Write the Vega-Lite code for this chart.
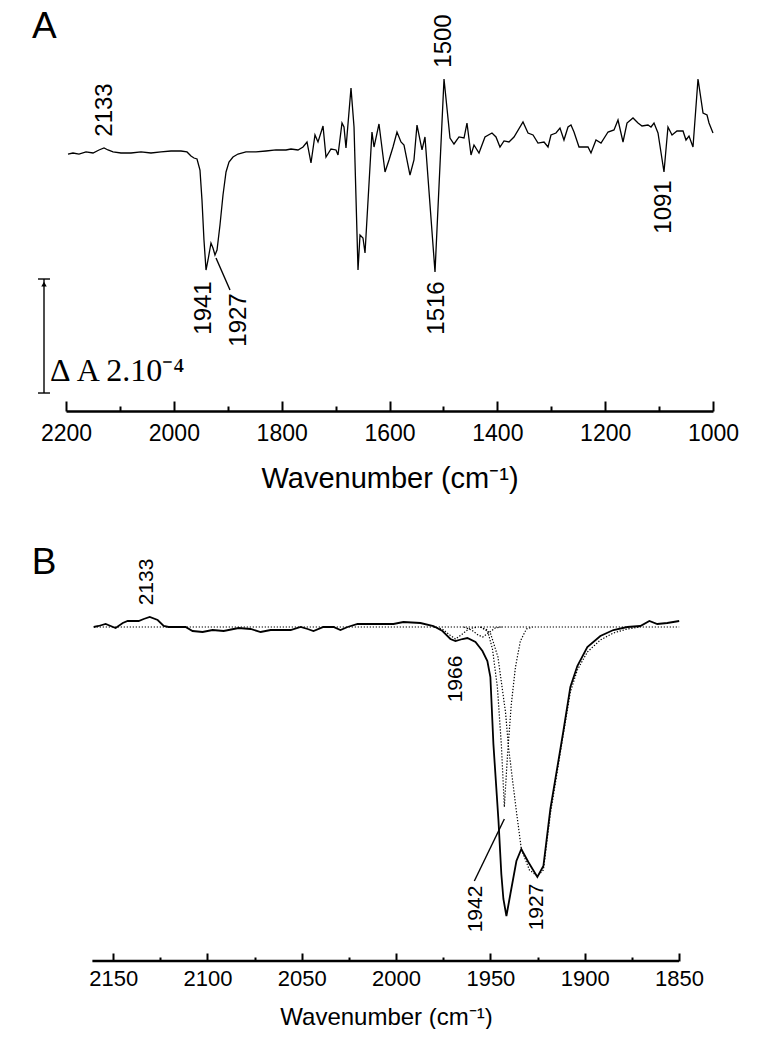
{
  "$schema": "https://vega.github.io/schema/vega-lite/v6.json",
  "background": "white",
  "padding": {"left": 31, "top": 0, "right": 0, "bottom": 0},
  "config": {
    "view": {"stroke": null},
    "axis": {"labelFont": "Liberation Sans", "titleFont": "Liberation Sans", "labelColor": "black", "titleColor": "black", "tickColor": "black", "domainColor": "black", "grid": false, "titleFontWeight": "normal", "labelOverlap": false, "labelFlush": false},
    "text": {"font": "Liberation Sans", "color": "black"}
  },
  "spacing": 51,
  "datasets": {
    "specA": [
      {"wn":2196.3,"dA":-0.018},{"wn":2187.0,"dA":0},{"wn":2175.9,"dA":-0.018},{"wn":2162.9,"dA":0.018},{"wn":2149.9,"dA":0},{"wn":2138.8,"dA":0.053},{"wn":2129.5,"dA":0.088},{"wn":2122.1,"dA":0.053},{"wn":2112.8,"dA":0.018},{"wn":2098.0,"dA":0},{"wn":2079.4,"dA":0},{"wn":2060.9,"dA":0.018},{"wn":2042.4,"dA":0},{"wn":2023.8,"dA":0.018},{"wn":2005.3,"dA":0.035},{"wn":1986.7,"dA":0.035},{"wn":1975.6,"dA":0.018},{"wn":1968.2,"dA":-0.053},{"wn":1962.6,"dA":-0.088},{"wn":1957.0,"dA":-0.105},{"wn":1951.5,"dA":-0.298},{"wn":1947.8,"dA":-0.825},{"wn":1944.1,"dA":-1.526},{"wn":1940.3,"dA":-2.053},{"wn":1936.6,"dA":-1.877},{"wn":1931.1,"dA":-1.579},{"wn":1927.4,"dA":-1.667},{"wn":1923.7,"dA":-1.789},{"wn":1919.9,"dA":-1.702},{"wn":1914.4,"dA":-1.263},{"wn":1908.8,"dA":-0.737},{"wn":1903.2,"dA":-0.333},{"wn":1897.7,"dA":-0.158},{"wn":1890.3,"dA":-0.070},{"wn":1881.0,"dA":-0.018},{"wn":1866.2,"dA":0.018},{"wn":1847.6,"dA":0.018},{"wn":1829.1,"dA":0.035},{"wn":1810.5,"dA":0.053},{"wn":1792.0,"dA":0.053},{"wn":1782.7,"dA":0.070},{"wn":1769.7,"dA":0.053},{"wn":1760.4,"dA":0.105},{"wn":1753.0,"dA":0.193},{"wn":1745.6,"dA":-0.175},{"wn":1738.2,"dA":0.316},{"wn":1732.6,"dA":0.193},{"wn":1723.3,"dA":0.474},{"wn":1717.8,"dA":-0.070},{"wn":1708.5,"dA":0.070},{"wn":1699.2,"dA":0.053},{"wn":1695.5,"dA":-0.035},{"wn":1688.1,"dA":0.526},{"wn":1684.4,"dA":0.456},{"wn":1680.7,"dA":0.088},{"wn":1671.4,"dA":1.140},{"wn":1665.8,"dA":0.456},{"wn":1658.4,"dA":-2.053},{"wn":1654.7,"dA":-1.439},{"wn":1649.2,"dA":-1.491},{"wn":1645.4,"dA":-1.754},{"wn":1632.5,"dA":0.368},{"wn":1628.7,"dA":0.105},{"wn":1619.5,"dA":0.509},{"wn":1608.3,"dA":-0.333},{"wn":1600.9,"dA":-0.123},{"wn":1593.5,"dA":0.105},{"wn":1586.1,"dA":0.368},{"wn":1578.7,"dA":0.193},{"wn":1573.1,"dA":0.140},{"wn":1562.0,"dA":-0.386},{"wn":1554.6,"dA":-0.123},{"wn":1549.0,"dA":0.491},{"wn":1539.7,"dA":0.053},{"wn":1534.2,"dA":0.281},{"wn":1515.6,"dA":-2.088},{"wn":1498.9,"dA":1.298},{"wn":1487.8,"dA":0.263},{"wn":1480.4,"dA":0.158},{"wn":1471.1,"dA":0.281},{"wn":1461.8,"dA":0.263},{"wn":1456.3,"dA":0.526},{"wn":1448.8,"dA":-0.035},{"wn":1443.3,"dA":0.140},{"wn":1434.0,"dA":0},{"wn":1422.9,"dA":0.281},{"wn":1409.9,"dA":0.351},{"wn":1402.5,"dA":0.281},{"wn":1395.1,"dA":0.105},{"wn":1387.6,"dA":0.211},{"wn":1378.4,"dA":0.193},{"wn":1369.1,"dA":0.281},{"wn":1352.4,"dA":0.544},{"wn":1343.1,"dA":0.351},{"wn":1333.8,"dA":0.316},{"wn":1324.6,"dA":0.175},{"wn":1313.4,"dA":0.193},{"wn":1306.0,"dA":0.105},{"wn":1300.5,"dA":0.316},{"wn":1291.2,"dA":0.351},{"wn":1283.8,"dA":0.439},{"wn":1276.4,"dA":0.228},{"wn":1268.9,"dA":0.456},{"wn":1263.4,"dA":0.491},{"wn":1257.8,"dA":0.368},{"wn":1248.5,"dA":0.105},{"wn":1231.8,"dA":0.105},{"wn":1226.3,"dA":0},{"wn":1217.0,"dA":0.228},{"wn":1207.7,"dA":0.175},{"wn":1194.7,"dA":0.368},{"wn":1183.6,"dA":0.404},{"wn":1176.2,"dA":0.579},{"wn":1166.9,"dA":0.193},{"wn":1159.5,"dA":0.526},{"wn":1148.4,"dA":0.614},{"wn":1139.1,"dA":0.526},{"wn":1131.7,"dA":0.474},{"wn":1120.6,"dA":0.491},{"wn":1115.0,"dA":0.456},{"wn":1109.4,"dA":0.526},{"wn":1102.0,"dA":0.351},{"wn":1090.9,"dA":-0.333},{"wn":1083.5,"dA":0.456},{"wn":1076.0,"dA":0.316},{"wn":1066.8,"dA":0.386},{"wn":1055.6,"dA":0.386},{"wn":1050.1,"dA":0.228},{"wn":1044.5,"dA":0.298},{"wn":1037.1,"dA":0.105},{"wn":1027.8,"dA":1.298},{"wn":1018.5,"dA":0.702},{"wn":1011.1,"dA":0.667},{"wn":1007.4,"dA":0.526},{"wn":1000.0,"dA":0.351}
    ],
    "labA": [
      {"wn":2127.7,"dA":0.754,"t":"2133"},
      {"wn":1498.9,"dA":1.965,"t":"1500"},
      {"wn":1090.9,"dA":-0.947,"t":"1091"},
      {"wn":1944.1,"dA":-2.719,"t":"1941"},
      {"wn":1879.1,"dA":-2.930,"t":"1927"},
      {"wn":1511.9,"dA":-2.719,"t":"1516"}
    ],
    "segA": [
      {"wn":1921.8,"wn2":1895.8,"dA":-1.842,"dA2":-2.404},
      {"wn":2240.8,"wn2":2240.8,"dA":-2.2105,"dA2":-4.2105},
      {"wn":2251.9,"wn2":2229.7,"dA":-2.2105,"dA2":-2.2105},
      {"wn":2251.9,"wn2":2229.7,"dA":-4.2105,"dA2":-4.2105}
    ],
    "arrowA": [{"wn":2240.8,"dA":-2.30}],
    "scaleTextA": [{"wn":2229.7,"dA":-4.0,"t":"Δ A 2.10⁻⁴"}],
    "letterA": [{"wn":2263.06,"dA":2.0175,"t":"A"}],
    "specB": [
      {"wn":2160.3,"v":0},{"wn":2157.7,"v":0.01},{"wn":2154.0,"v":0.03},{"wn":2151.3,"v":0.01},{"wn":2148.7,"v":-0.01},{"wn":2144.9,"v":0.04},{"wn":2142.3,"v":0.06},{"wn":2136.5,"v":0.06},{"wn":2133.8,"v":0.08},{"wn":2130.6,"v":0.10},{"wn":2126.4,"v":0.07},{"wn":2123.2,"v":0.01},{"wn":2120.6,"v":0},{"wn":2111.6,"v":0},{"wn":2107.9,"v":-0.04},{"wn":2102.6,"v":-0.05},{"wn":2097.3,"v":-0.03},{"wn":2091.4,"v":-0.04},{"wn":2083.5,"v":-0.01},{"wn":2077.1,"v":-0.02},{"wn":2071.8,"v":-0.05},{"wn":2066.5,"v":-0.03},{"wn":2055.9,"v":-0.03},{"wn":2050.6,"v":0},{"wn":2046.9,"v":-0.02},{"wn":2043.8,"v":-0.04},{"wn":2038.5,"v":0},{"wn":2033.2,"v":0},{"wn":2029.5,"v":-0.03},{"wn":2025.7,"v":0},{"wn":2020.4,"v":0.03},{"wn":2009.9,"v":0.03},{"wn":2001.4,"v":0.03},{"wn":1996.1,"v":0.05},{"wn":1987.1,"v":0.04},{"wn":1980.2,"v":0.01},{"wn":1975.4,"v":-0.04},{"wn":1971.2,"v":-0.12},{"wn":1968.5,"v":-0.14},{"wn":1964.8,"v":-0.12},{"wn":1962.2,"v":-0.11},{"wn":1957.9,"v":-0.15},{"wn":1954.2,"v":-0.24},{"wn":1951.6,"v":-0.34},{"wn":1950.0,"v":-0.50},{"wn":1948.4,"v":-1.17},{"wn":1945.7,"v":-1.94},{"wn":1944.2,"v":-2.47},{"wn":1943.1,"v":-2.72},{"wn":1941.5,"v":-2.89},{"wn":1939.4,"v":-2.67},{"wn":1936.2,"v":-2.34},{"wn":1933.6,"v":-2.22},{"wn":1929.9,"v":-2.35},{"wn":1925.1,"v":-2.50},{"wn":1921.9,"v":-2.39},{"wn":1918.2,"v":-1.82},{"wn":1911.3,"v":-1.04},{"wn":1907.6,"v":-0.60},{"wn":1903.9,"v":-0.39},{"wn":1898.6,"v":-0.20},{"wn":1891.7,"v":-0.09},{"wn":1884.8,"v":-0.03},{"wn":1877.4,"v":0},{"wn":1870.5,"v":0.01},{"wn":1865.7,"v":0.06},{"wn":1861.5,"v":0.03},{"wn":1856.2,"v":0.04},{"wn":1849.9,"v":0.06}
    ],
    "compB": [
      {"wn":2160.3,"v":0,"c":"base"},{"wn":1849.9,"v":0,"c":"base"},
      {"wn":1980,"v":0,"c":"c1966"},{"wn":1975.5,"v":-0.02,"c":"c1966"},{"wn":1971.5,"v":-0.08,"c":"c1966"},{"wn":1968.5,"v":-0.12,"c":"c1966"},{"wn":1965.5,"v":-0.08,"c":"c1966"},{"wn":1961.5,"v":-0.02,"c":"c1966"},{"wn":1957,"v":0,"c":"c1966"},
      {"wn":1964,"v":0,"c":"c1955"},{"wn":1960,"v":-0.03,"c":"c1955"},{"wn":1956.5,"v":-0.08,"c":"c1955"},{"wn":1954,"v":-0.10,"c":"c1955"},{"wn":1951,"v":-0.06,"c":"c1955"},{"wn":1947.5,"v":-0.01,"c":"c1955"},{"wn":1944,"v":0,"c":"c1955"},
      {"wn":1955.3,"v":0,"c":"c1942"},{"wn":1951.6,"v":-0.03,"c":"c1942"},{"wn":1948.9,"v":-0.22,"c":"c1942"},{"wn":1946.3,"v":-0.60,"c":"c1942"},{"wn":1944.2,"v":-1.17,"c":"c1942"},{"wn":1942.6,"v":-1.80,"c":"c1942"},{"wn":1941.0,"v":-1.30,"c":"c1942"},{"wn":1938.9,"v":-0.77,"c":"c1942"},{"wn":1936.7,"v":-0.40,"c":"c1942"},{"wn":1934.1,"v":-0.14,"c":"c1942"},{"wn":1930.9,"v":-0.02,"c":"c1942"},{"wn":1927.7,"v":0,"c":"c1942"},
      {"wn":1955.3,"v":0,"c":"c1927"},{"wn":1950.0,"v":-0.06,"c":"c1927"},{"wn":1946.0,"v":-0.30,"c":"c1927"},{"wn":1942.0,"v":-0.85,"c":"c1927"},{"wn":1940.4,"v":-1.20,"c":"c1927"},{"wn":1936.7,"v":-1.77,"c":"c1927"},{"wn":1933.6,"v":-2.22,"c":"c1927"},{"wn":1929.3,"v":-2.43,"c":"c1927"},{"wn":1925.1,"v":-2.49,"c":"c1927"},{"wn":1921.9,"v":-2.43,"c":"c1927"},{"wn":1918.2,"v":-1.87,"c":"c1927"},{"wn":1911.3,"v":-1.07,"c":"c1927"},{"wn":1907.6,"v":-0.65,"c":"c1927"},{"wn":1903.9,"v":-0.43,"c":"c1927"},{"wn":1898.6,"v":-0.25,"c":"c1927"},{"wn":1891.7,"v":-0.13,"c":"c1927"},{"wn":1884.8,"v":-0.06,"c":"c1927"},{"wn":1877.4,"v":-0.02,"c":"c1927"},{"wn":1870.5,"v":0,"c":"c1927"}
    ],
    "labB": [
      {"wn":2132.2,"v":0.45,"t":"2133"},
      {"wn":1968.0,"v":-0.52,"t":"1966"},
      {"wn":1957.4,"v":-2.82,"t":"1942"},
      {"wn":1925.1,"v":-2.80,"t":"1927"}
    ],
    "segB": [{"wn":1958.5,"wn2":1942.6,"v":-2.54,"v2":-1.92}],
    "axisLineB": [{"wn":2161,"wn2":1850,"v":-3.34}],
    "letterB": [{"wn":2193.1,"v":0.53,"t":"B"}]
  },
  "vconcat": [
    {
      "width": 647,
      "height": 411,
      "resolve": {"axis": {"x": "independent"}},
      "layer": [
        {
          "data": {"name": "specA"},
          "mark": {"type": "line", "color": "black", "strokeWidth": 1.3},
          "encoding": {
            "x": {"field": "wn", "type": "quantitative", "scale": {"domain": [2200, 1000], "nice": false, "zero": false},
                  "axis": {"orient": "bottom", "values": [2200, 2000, 1800, 1600, 1400, 1200, 1000], "format": "d", "tickSize": -10, "tickWidth": 2, "domainWidth": 2.5, "labelFontSize": 23, "labelPadding": 21.5, "title": "Wavenumber (cm⁻¹)", "titleFontSize": 29, "titlePadding": 18.5}},
            "y": {"field": "dA", "type": "quantitative", "scale": {"domain": [-4.526, 2.684], "nice": false, "zero": false}, "axis": null}
          }
        },
        {
          "data": {"name": "segA"},
          "mark": {"type": "rule", "color": "black", "strokeWidth": 1.4},
          "encoding": {
            "x": {"field": "wn", "type": "quantitative",
                  "axis": {"orient": "bottom", "values": [2100, 1900, 1700, 1500, 1300, 1100], "domain": false, "labels": false, "title": null, "tickSize": -5, "tickWidth": 2}},
            "x2": {"field": "wn2"},
            "y": {"field": "dA", "type": "quantitative", "axis": null},
            "y2": {"field": "dA2"}
          }
        },
        {
          "data": {"name": "labA"},
          "mark": {"type": "text", "angle": 270, "fontSize": 24, "align": "center", "baseline": "middle"},
          "encoding": {
            "x": {"field": "wn", "type": "quantitative", "axis": null},
            "y": {"field": "dA", "type": "quantitative", "axis": null},
            "text": {"field": "t"}
          }
        },
        {
          "data": {"name": "arrowA"},
          "mark": {"type": "point", "shape": "triangle-up", "filled": true, "color": "black", "size": 30, "opacity": 1},
          "encoding": {
            "x": {"field": "wn", "type": "quantitative", "axis": null},
            "y": {"field": "dA", "type": "quantitative", "axis": null}
          }
        },
        {
          "data": {"name": "scaleTextA"},
          "mark": {"type": "text", "font": "Liberation Serif", "fontSize": 32, "align": "left", "baseline": "alphabetic"},
          "encoding": {
            "x": {"field": "wn", "type": "quantitative", "axis": null},
            "y": {"field": "dA", "type": "quantitative", "axis": null},
            "text": {"field": "t"}
          }
        },
        {
          "data": {"name": "letterA"},
          "mark": {"type": "text", "fontSize": 37, "align": "left", "baseline": "alphabetic"},
          "encoding": {
            "x": {"field": "wn", "type": "quantitative", "axis": null},
            "y": {"field": "dA", "type": "quantitative", "axis": null},
            "text": {"field": "t"}
          }
        }
      ]
    },
    {
      "width": 613,
      "height": 417,
      "resolve": {"axis": {"x": "independent"}},
      "layer": [
        {
          "data": {"name": "compB"},
          "mark": {"type": "line", "color": "black", "strokeWidth": 1.2, "strokeDash": [1.3, 1.7]},
          "encoding": {
            "x": {"field": "wn", "type": "quantitative", "scale": {"domain": [2175, 1850], "nice": false, "zero": false},
                  "axis": {"orient": "bottom", "values": [2150, 2100, 2050, 2000, 1950, 1900, 1850], "format": "d", "domain": false, "tickSize": -8, "tickWidth": 2, "labelFontSize": 22, "labelPadding": 15.3, "title": "Wavenumber (cm⁻¹)", "titleFontSize": 24, "titleX": 320, "titleY": 44, "titleAlign": "center", "titleBaseline": "top"}},
            "y": {"field": "v", "type": "quantitative", "scale": {"domain": [-3.34, 0.83], "nice": false, "zero": false}, "axis": null},
            "detail": {"field": "c"}
          }
        },
        {
          "data": {"name": "specB"},
          "mark": {"type": "line", "color": "black", "strokeWidth": 1.8},
          "encoding": {
            "x": {"field": "wn", "type": "quantitative",
                  "axis": {"orient": "bottom", "values": [2125, 2075, 2025, 1975, 1925, 1875], "domain": false, "labels": false, "title": null, "tickSize": -4, "tickWidth": 2}},
            "y": {"field": "v", "type": "quantitative", "axis": null}
          }
        },
        {
          "data": {"name": "axisLineB"},
          "mark": {"type": "rule", "color": "black", "strokeWidth": 2.5},
          "encoding": {
            "x": {"field": "wn", "type": "quantitative", "axis": null},
            "x2": {"field": "wn2"},
            "y": {"field": "v", "type": "quantitative", "axis": null}
          }
        },
        {
          "data": {"name": "segB"},
          "mark": {"type": "rule", "color": "black", "strokeWidth": 1.4},
          "encoding": {
            "x": {"field": "wn", "type": "quantitative", "axis": null},
            "x2": {"field": "wn2"},
            "y": {"field": "v", "type": "quantitative", "axis": null},
            "y2": {"field": "v2"}
          }
        },
        {
          "data": {"name": "labB"},
          "mark": {"type": "text", "angle": 270, "fontSize": 21, "align": "center", "baseline": "middle"},
          "encoding": {
            "x": {"field": "wn", "type": "quantitative", "axis": null},
            "y": {"field": "v", "type": "quantitative", "axis": null},
            "text": {"field": "t"}
          }
        },
        {
          "data": {"name": "letterB"},
          "mark": {"type": "text", "fontSize": 37, "align": "left", "baseline": "alphabetic"},
          "encoding": {
            "x": {"field": "wn", "type": "quantitative", "axis": null},
            "y": {"field": "v", "type": "quantitative", "axis": null},
            "text": {"field": "t"}
          }
        }
      ]
    }
  ]
}
